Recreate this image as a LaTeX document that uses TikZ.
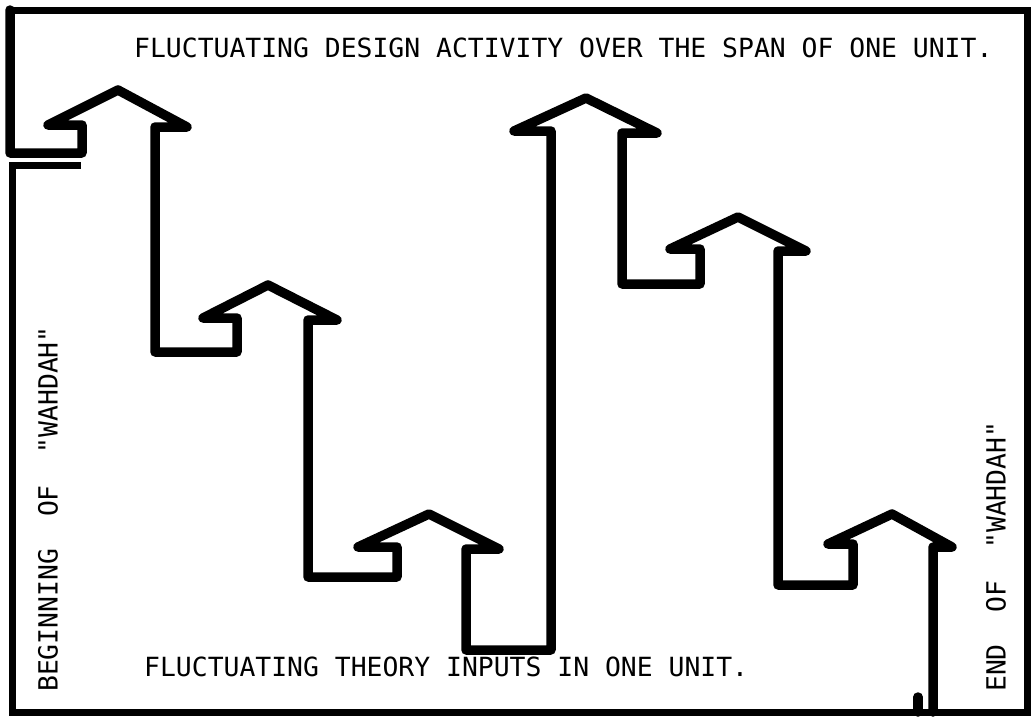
\documentclass[tikz,border=0pt]{standalone}
\usepackage{fontspec}
\newfontfamily\lettering{DejaVu Sans Mono}
\begin{document}
\begin{tikzpicture}[x=1pt,y=-1pt,
  frame/.style={line width=7pt, line join=miter, line cap=rect},
  flow/.style={line width=9.5pt, line join=round, line cap=round},
  lbl/.style={font=\lettering\fontsize{26.4}{26.4}\selectfont, inner sep=0pt, anchor=west}]
\useasboundingbox (0,0) rectangle (1033,720);
% frame
\draw[frame] (77,165) -- (12,165) -- (12,712) -- (1027,712) -- (1027,10) -- (10,10);
% fluctuating line of arrows
\draw[flow] (10,10) -- (10,153) -- (82,153) -- (82,125) -- (48,125) -- (118,90) -- (187,127) -- (155,127)
  -- (155,352) -- (237,352) -- (237,318) -- (203,318) -- (268,285) -- (337,320) -- (308,320)
  -- (308,577) -- (397,577) -- (397,547) -- (358,547) -- (429,514) -- (499,549) -- (466,549)
  -- (466,650) -- (551,650) -- (551,131) -- (514,131) -- (586,98) -- (657,133) -- (622,133)
  -- (622,284) -- (700,284) -- (700,249) -- (670,249) -- (738,217) -- (806,251) -- (778,251)
  -- (778,585) -- (853,585) -- (853,544) -- (828,544) -- (892,514) -- (952,547) -- (933,547)
  -- (933,712);
\draw[flow] (918,697) -- (918,712);
% labels
\node[lbl] (top) at (134,48) {FLUCTUATING DESIGN ACTIVITY OVER THE SPAN OF ONE UNIT.};
\node[lbl] (bottom) at (144,667) {FLUCTUATING THEORY INPUTS IN ONE UNIT.};
\node[lbl, rotate=90] (begin) at (48,692) {BEGINNING\ \ OF\ \ "WAHDAH"};
\node[lbl, rotate=90] (end) at (996,692) {END\ \ OF\ \ "WAHDAH"};
\end{tikzpicture}
\end{document}
